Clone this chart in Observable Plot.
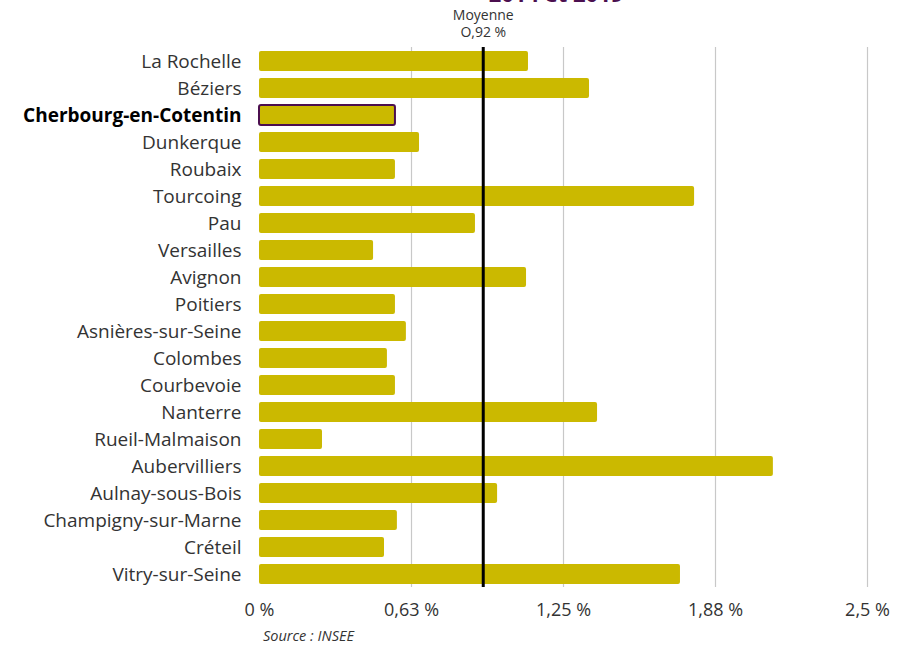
<!DOCTYPE html>
<html><head><meta charset="utf-8">
<script src="https://cdn.jsdelivr.net/npm/d3@7"></script>
<script src="https://cdn.jsdelivr.net/npm/@observablehq/plot@0.6"></script>
<style>
body{margin:0;background:#fff;font-family:"Open Sans",sans-serif;overflow:hidden}
#wrap{position:relative;width:906px;height:645px}
#title{position:absolute;top:-18px;left:0;width:1112px;text-align:center;color:#4b0f4f;font-size:22px;line-height:22px;font-weight:700;white-space:nowrap}
#chart{position:absolute;top:0;left:0}
#source{position:absolute;top:626px;left:263px;font-size:14.5px;font-style:italic;color:#333}
</style></head><body>
<div id="wrap"><div id="chart"></div><div id="title">2014 et 2019</div><div id="source">Source : INSEE</div></div>
<script>
const cities = ["La Rochelle","Béziers","Cherbourg-en-Cotentin","Dunkerque","Roubaix","Tourcoing","Pau","Versailles","Avignon","Poitiers","Asnières-sur-Seine","Colombes","Courbevoie","Nanterre","Rueil-Malmaison","Aubervilliers","Aulnay-sous-Bois","Champigny-sur-Marne","Créteil","Vitry-sur-Seine"];
const values = [1.106,1.357,0.559,0.658,0.559,1.789,0.888,0.469,1.098,0.559,0.604,0.526,0.559,1.390,0.259,2.113,0.979,0.567,0.514,1.731];
const highlight = "Cherbourg-en-Cotentin";
const mean = 0.92;
const ticks = [0,0.625,1.25,1.875,2.5];
const tickLabels = ["0 %","0,63 %","1,25 %","1,88 %","2,5 %"];
const data = cities.map((c,i)=>({city:c,value:values[i]}));
const font = "'Open Sans', sans-serif";
const chart = Plot.plot({
  width:906,height:625,
  marginTop:47,marginBottom:38,marginLeft:259,marginRight:39,
  style:{fontFamily:font,background:"#fff"},
  x:{domain:[0,2.5],label:null},
  y:{domain:cities,paddingInner:0.26,paddingOuter:0.13,label:null},
  marks:[
    Plot.ruleX(ticks.slice(1),{stroke:"#c8c8c8",strokeWidth:1.2}),
    Plot.barX(data,{x:"value",y:"city",fill:"#cbb900",rx:2,
      stroke:d=>d.city===highlight?"#4b0f4f":"none",strokeWidth:2}),
    Plot.ruleX([0],{stroke:"#000",strokeWidth:1.5,y1:null}),
    Plot.ruleX([mean],{stroke:"#000",strokeWidth:3}),
    Plot.text([mean],{x:d=>d,frameAnchor:"top",dy:-39,text:()=>"Moyenne\nO,92 %",fontSize:14,fill:"#333",lineHeight:1.2}),
    Plot.axisX({ticks:ticks,tickFormat:d=>tickLabels[ticks.indexOf(d)],tickSize:0,tickPadding:16,fontSize:18,fill:"#333"}),
    Plot.axisY({tickSize:0,tickPadding:18,fontSize:19,fill:"#333",tickFormat:d=>d===highlight?"":d}),
    Plot.text([highlight],{y:d=>d,frameAnchor:"left",dx:-18,textAnchor:"end",text:d=>d,fontSize:19,fontWeight:700,fill:"#000"})
  ]
});
document.getElementById("chart").appendChild(chart);
</script>
</body></html>
